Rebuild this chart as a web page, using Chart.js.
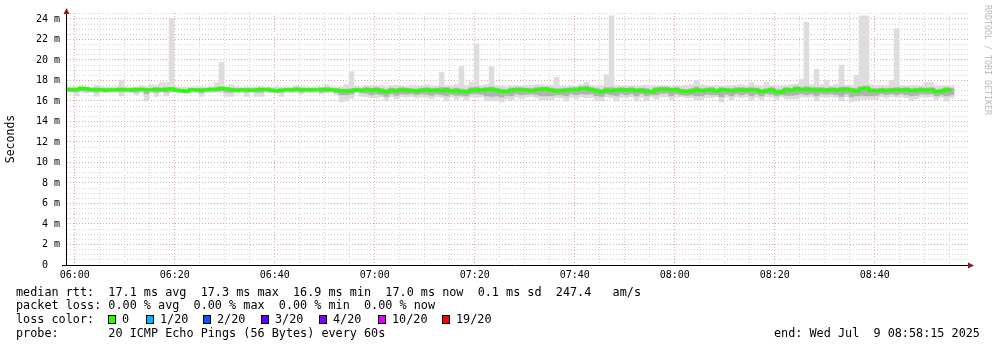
<!DOCTYPE html>
<html>
<head>
<meta charset="utf-8">
<script src="https://cdn.jsdelivr.net/npm/chart.js@4.4.0/dist/chart.umd.min.js"></script>
<style>
  html, body { margin: 0; padding: 0; background: #fff; }
  #wrap { position: relative; width: 997px; height: 347px; overflow: hidden; }
  canvas { position: absolute; left: 0; top: 0; }
  .leg { position: absolute; font-family: 'DejaVu Sans Mono', monospace; font-size: 11.8px;
         line-height: 14px; white-space: pre; color: #000; }
  .sq { position: absolute; width: 6px; height: 7px; border: 1px solid #000; }
  #credit { position: absolute; left: 992px; top: 5px; transform: rotate(90deg); transform-origin: 0 0;
            font-family: 'DejaVu Sans Mono', monospace; font-size: 8.3px; line-height: 9px;
            color: #b8b8b8; white-space: pre; }
</style>
</head>
<body>
<div id="wrap">
  <canvas id="rrd" width="997" height="347"></canvas>
  <div id="credit">RRDTOOL / TOBI OETIKER</div>
  <div class="leg" style="left:16px;top:284.5px">median rtt:  17.1 ms avg  17.3 ms max  16.9 ms min  17.0 ms now  0.1 ms sd  247.4   am/s</div>
  <div class="leg" style="left:16px;top:298px">packet loss: 0.00 % avg  0.00 % max  0.00 % min  0.00 % now</div>
  <div class="leg" style="left:16px;top:312px">loss color:</div>
  <div id="loss"></div>
  <div class="leg" style="left:16px;top:325.5px">probe:       20 ICMP Echo Pings (56 Bytes) every 60s</div>
  <div class="leg" style="left:774px;top:325.5px">end: Wed Jul  9 08:58:15 2025</div>
</div>
<script>
// one sample per minute, first one at 05:58:22 (minutes relative to 06:00)
const firstSample = -1.64;
const tickLabels = ['06:00', '06:20', '06:40', '07:00', '07:20', '07:40', '08:00', '08:20', '08:40'];

// median rtt in ms
const medianRtt = [
  17.15, 17.1, 17.15, 17.25, 17.2, 17.1, 17.15, 17.1, 17.05, 17.1,
  17.1, 17.15, 17.1, 17.1, 17.15, 17.15, 17.1, 17.1, 17.15, 17.1,
  17.15, 17.2, 17.05, 17.0, 16.95, 17.1, 17.1, 17.05, 17.1, 17.15,
  17.15, 17.25, 17.2, 17.1, 17.05, 17.1, 17.1, 17.05, 17.1, 17.15,
  17.15, 17.05, 17.0, 17.05, 17.1, 17.1, 17.15, 17.1, 17.1, 17.1,
  17.1, 17.15, 17.15, 17.1, 17.05, 17.0, 16.95, 17.0, 17.1, 17.05,
  17.1, 17.05, 17.1, 16.95, 16.9, 17.05, 17.0, 17.1, 17.05, 17.0,
  16.95, 17.05, 17.1, 17.0, 17.05, 17.0, 17.1, 16.95, 17.0, 16.9,
  16.9, 17.05, 17.1, 17.05, 17.1, 17.15, 17.05, 16.95, 16.9, 17.05,
  17.1, 17.1, 17.05, 17.0, 17.1, 17.15, 17.15, 17.05, 16.95, 17.0,
  17.05, 17.1, 17.1, 17.2, 17.2, 17.1, 17.0, 16.9, 17.05, 17.0,
  17.05, 17.1, 17.05, 17.1, 17.0, 17.05, 16.95, 16.9, 17.1, 17.15,
  17.15, 17.05, 17.1, 16.95, 16.9, 16.95, 17.1, 17.0, 17.05, 17.1,
  16.95, 17.1, 17.05, 17.0, 17.05, 17.1, 17.05, 17.1, 17.05, 16.9,
  17.0, 17.1, 16.85, 16.9, 17.1, 17.05, 17.2, 17.1, 17.15, 17.1,
  17.05, 17.1, 17.05, 17.1, 17.05, 17.1, 17.15, 17.05, 16.95, 17.2,
  17.25, 17.0, 17.0, 17.05, 17.0, 17.05, 17.1, 17.05, 17.1, 17.0,
  17.05, 17.1, 17.05, 17.1, 16.9, 16.95, 17.1, 17.05
];

// slowest ping of each round (ms)
const pingMax = [
  17.35, 17.4, 17.35, 17.45, 17.35, 17.3, 17.55, 17.4, 17.35, 17.35,
  17.4, 18.0, 17.4, 17.35, 17.35, 17.45, 17.4, 17.6, 17.55, 17.8,
  17.8, 24.05, 17.4, 17.35, 17.35, 17.4, 17.4, 17.4, 17.35, 17.4,
  17.8, 19.75, 17.35, 17.6, 17.4, 17.35, 17.4, 17.35, 17.4, 17.4,
  17.35, 17.35, 17.4, 17.35, 17.4, 17.35, 17.5, 17.4, 17.4, 17.35,
  17.4, 17.35, 17.6, 17.4, 17.35, 17.4, 17.6, 18.85, 17.4, 17.4,
  17.5, 17.5, 17.45, 17.5, 17.4, 17.5, 17.55, 17.45, 17.4, 17.5,
  17.45, 17.5, 17.6, 17.5, 17.45, 18.8, 17.5, 17.45, 17.6, 19.35,
  17.5, 17.8, 21.55, 17.5, 17.6, 19.35, 17.5, 17.45, 17.4, 17.5,
  17.5, 17.45, 17.5, 17.55, 17.6, 17.55, 17.5, 17.55, 18.3, 17.45,
  17.4, 17.5, 17.45, 17.6, 17.8, 17.5, 17.45, 17.5, 18.55, 24.3,
  17.5, 17.45, 17.5, 17.5, 17.45, 17.5, 17.55, 17.45, 17.5, 17.5,
  17.5, 17.45, 17.5, 17.45, 17.55, 17.6, 18.0, 17.6, 17.5, 17.45,
  17.5, 17.45, 17.5, 17.5, 17.55, 17.6, 17.5, 17.8, 17.5, 17.45,
  17.8, 17.5, 17.45, 17.5, 17.55, 17.6, 17.65, 18.1, 23.7, 17.6,
  19.1, 17.6, 18.0, 17.5, 17.65, 19.5, 17.55, 17.5, 18.5, 24.3,
  24.3, 17.6, 17.5, 17.55, 17.5, 18.0, 23.05, 17.5, 17.45, 17.5,
  17.5, 17.45, 17.8, 17.8, 17.5, 17.45, 17.5, 17.45
];

// fastest ping of each round (ms)
const pingMin = [
  16.9, 16.85, 16.5, 16.85, 16.8, 16.85, 16.45, 16.85, 16.8, 16.85,
  16.85, 16.5, 16.85, 16.8, 16.6, 16.85, 16.0, 16.8, 16.45, 16.85,
  16.5, 16.8, 16.85, 16.8, 16.75, 16.85, 16.8, 16.45, 16.85, 16.8,
  16.85, 16.8, 16.45, 16.45, 16.85, 16.8, 16.45, 16.85, 16.45, 16.45,
  16.85, 16.8, 16.75, 16.45, 16.85, 16.8, 16.85, 16.7, 16.85, 16.8,
  16.85, 16.7, 16.8, 16.85, 16.6, 15.9, 16.0, 16.25, 16.8, 16.45,
  16.4, 16.3, 16.3, 16.4, 16.0, 16.4, 16.2, 16.4, 16.35, 16.4,
  16.3, 16.4, 16.35, 16.2, 16.4, 16.35, 16.0, 16.4, 16.15, 16.35,
  16.1, 16.4, 16.35, 16.4, 16.0, 16.0, 16.0, 15.9, 16.2, 16.1,
  16.4, 16.2, 16.35, 16.4, 16.3, 16.1, 16.1, 16.1, 16.35, 16.3,
  16.0, 16.35, 16.2, 16.4, 16.3, 16.35, 16.0, 16.0, 16.4, 16.3,
  16.0, 16.35, 16.3, 16.4, 16.0, 16.35, 16.0, 16.4, 16.2, 16.4,
  16.4, 16.1, 16.35, 16.4, 16.3, 16.35, 16.1, 16.1, 16.35, 16.3,
  16.4, 15.9, 16.35, 16.1, 16.4, 16.3, 16.4, 16.1, 16.35, 16.15,
  16.4, 16.35, 16.15, 16.4, 16.2, 16.2, 16.2, 16.4, 16.35, 16.4,
  16.0, 16.4, 16.35, 16.4, 16.35, 16.0, 16.4, 15.9, 16.0, 16.15,
  16.15, 16.15, 16.15, 16.4, 16.3, 16.4, 16.35, 16.4, 16.3, 16.0,
  16.2, 16.4, 16.35, 16.4, 16.15, 16.35, 16.0, 16.3
];

// the denser middle of the smoke (ms)
const innerHi = [
  17.25, 17.2, 17.25, 17.3, 17.3, 17.2, 17.25, 17.2, 17.2, 17.2,
  17.2, 17.25, 17.2, 17.2, 17.25, 17.25, 17.2, 17.25, 17.3, 17.25,
  17.3, 17.3, 17.2, 17.15, 17.1, 17.2, 17.2, 17.2, 17.2, 17.25,
  17.3, 17.35, 17.3, 17.25, 17.2, 17.2, 17.2, 17.2, 17.2, 17.25,
  17.25, 17.2, 17.15, 17.2, 17.2, 17.2, 17.3, 17.25, 17.2, 17.2,
  17.2, 17.25, 17.3, 17.2, 17.2, 17.15, 17.15, 17.2, 17.25, 17.2,
  17.3, 17.25, 17.3, 17.2, 17.1, 17.25, 17.2, 17.3, 17.25, 17.2,
  17.15, 17.25, 17.3, 17.2, 17.25, 17.3, 17.3, 17.15, 17.25, 17.15,
  17.1, 17.3, 17.35, 17.25, 17.3, 17.35, 17.25, 17.15, 17.1, 17.25,
  17.3, 17.3, 17.25, 17.2, 17.3, 17.35, 17.35, 17.25, 17.2, 17.2,
  17.25, 17.3, 17.3, 17.4, 17.45, 17.3, 17.2, 17.1, 17.3, 17.3,
  17.25, 17.3, 17.25, 17.3, 17.2, 17.25, 17.2, 17.1, 17.3, 17.35,
  17.35, 17.25, 17.3, 17.15, 17.1, 17.2, 17.35, 17.2, 17.25, 17.3,
  17.15, 17.3, 17.25, 17.2, 17.3, 17.3, 17.25, 17.3, 17.25, 17.1,
  17.2, 17.3, 17.1, 17.1, 17.3, 17.25, 17.4, 17.3, 17.4, 17.3,
  17.3, 17.3, 17.25, 17.3, 17.25, 17.35, 17.35, 17.25, 17.2, 17.4,
  17.45, 17.2, 17.2, 17.25, 17.2, 17.25, 17.3, 17.25, 17.3, 17.2,
  17.25, 17.3, 17.25, 17.3, 17.1, 17.15, 17.3, 17.25
];
const innerLo = [
  16.95, 16.95, 16.9, 17.0, 16.95, 16.95, 16.85, 16.95, 16.9, 16.95,
  16.95, 16.9, 16.95, 16.9, 16.85, 16.95, 16.7, 16.95, 16.85, 16.9,
  16.85, 16.95, 16.9, 16.85, 16.8, 16.95, 16.9, 16.8, 16.95, 16.95,
  16.95, 17.0, 16.85, 16.85, 16.9, 16.95, 16.85, 16.9, 16.85, 16.85,
  16.95, 16.9, 16.85, 16.85, 16.95, 16.9, 16.95, 16.85, 16.95, 16.9,
  16.95, 16.85, 16.9, 16.95, 16.8, 16.6, 16.6, 16.7, 16.9, 16.8,
  16.75, 16.6, 16.7, 16.6, 16.45, 16.7, 16.55, 16.7, 16.65, 16.7,
  16.6, 16.7, 16.65, 16.55, 16.7, 16.6, 16.5, 16.65, 16.55, 16.55,
  16.5, 16.7, 16.7, 16.65, 16.5, 16.45, 16.5, 16.4, 16.55, 16.5,
  16.7, 16.6, 16.65, 16.7, 16.6, 16.5, 16.5, 16.5, 16.6, 16.6,
  16.5, 16.7, 16.6, 16.7, 16.65, 16.7, 16.5, 16.45, 16.7, 16.6,
  16.5, 16.7, 16.6, 16.7, 16.5, 16.7, 16.5, 16.6, 16.6, 16.75,
  16.75, 16.5, 16.7, 16.6, 16.55, 16.6, 16.5, 16.5, 16.65, 16.6,
  16.6, 16.4, 16.65, 16.5, 16.7, 16.6, 16.7, 16.5, 16.65, 16.5,
  16.7, 16.65, 16.5, 16.6, 16.55, 16.55, 16.6, 16.7, 16.6, 16.7,
  16.5, 16.7, 16.65, 16.7, 16.6, 16.45, 16.7, 16.4, 16.5, 16.55,
  16.5, 16.5, 16.55, 16.7, 16.6, 16.7, 16.6, 16.7, 16.6, 16.5,
  16.55, 16.7, 16.65, 16.7, 16.5, 16.6, 16.5, 16.6
];

const lossLabels = ['0', '1/20', '2/20', '3/20', '4/20', '10/20', '19/20'];
const lossColors = ['#26ff00', '#00b8ff', '#0059ff', '#5e00ff', '#7e00ff', '#dd00ff', '#ff0000'];

// loss colour legend, placed like rrdtool does
const lossX = [108, 146, 203, 261, 319, 378, 442];
const lossBox = document.getElementById('loss');
lossLabels.forEach((lbl, i) => {
  const sq = document.createElement('div');
  sq.className = 'sq';
  sq.style.left = lossX[i] + 'px';
  sq.style.top = '315px';
  sq.style.background = lossColors[i];
  lossBox.appendChild(sq);
  const t = document.createElement('div');
  t.className = 'leg';
  t.style.left = (lossX[i] + 14) + 'px';
  t.style.top = '312px';
  t.textContent = lbl;
  lossBox.appendChild(t);
});

const mono = 'DejaVu Sans Mono';
const minorGrid = '#d6d6d6';
const majorGrid = '#eba3a3';
const times = medianRtt.map((_, k) => firstSample + k);
const band = (lo, hi) => times.map((t, k) => ({ x: t, y: [lo[k], hi[k]] }));

// axis lines with the little rrdtool arrows
const axisArrows = {
  id: 'axisArrows',
  afterDraw(chart) {
    const { ctx, chartArea: a } = chart;
    ctx.save();
    ctx.strokeStyle = '#000';
    ctx.lineWidth = 1;
    ctx.beginPath();
    ctx.moveTo(62, a.bottom + 0.5);
    ctx.lineTo(a.right + 1, a.bottom + 0.5);
    ctx.moveTo(a.left - 0.5, a.bottom + 1);
    ctx.lineTo(a.left - 0.5, a.top - 2);
    ctx.stroke();
    ctx.fillStyle = '#8b1c1c';
    ctx.beginPath();
    ctx.moveTo(a.left - 3.5, a.top + 1);
    ctx.lineTo(a.left + 2.5, a.top + 1);
    ctx.lineTo(a.left - 0.5, a.top - 5);
    ctx.closePath();
    ctx.fill();
    ctx.beginPath();
    ctx.moveTo(a.right, a.bottom - 2.5);
    ctx.lineTo(a.right, a.bottom + 3.5);
    ctx.lineTo(a.right + 6, a.bottom + 0.5);
    ctx.closePath();
    ctx.fill();
    ctx.restore();
  }
};

new Chart(document.getElementById('rrd'), {
  type: 'bar',
  data: {
    datasets: [
      {
        type: 'line',
        data: times.map((t, k) => ({ x: t, y: medianRtt[k] })),
        borderColor: '#26ff00',
        borderWidth: 3,
        stepped: 'middle',
        pointRadius: 0,
        clip: 0,
        order: 0
      },
      {
        data: band(innerLo, innerHi),
        backgroundColor: '#b2b2b2',
        grouped: false,
        barThickness: 5,
        clip: 0,
        order: 1
      },
      {
        data: band(pingMin, pingMax),
        backgroundColor: '#dddddd',
        grouped: false,
        barThickness: 5,
        clip: 0,
        order: 2
      }
    ]
  },
  options: {
    responsive: false,
    animation: false,
    devicePixelRatio: 1,
    layout: { padding: { top: 12, right: 29, left: 0, bottom: 0 } },
    plugins: { legend: { display: false }, tooltip: { enabled: false } },
    scales: {
      x: {
        type: 'linear',
        min: -1.54,
        max: 178.66,
        offset: false,
        afterBuildTicks: s => {
          s.ticks = [];
          for (let v = 0; v <= 175; v += 5) s.ticks.push({ value: v });
        },
        afterFit: s => { s.height = 82; },
        grid: {
          color: c => (c.tick && c.tick.value % 20 === 0) ? majorGrid : minorGrid,
          drawTicks: false,
          offset: false
        },
        border: { display: false, dash: [1, 2] },
        ticks: {
          autoSkip: false,
          maxRotation: 0,
          padding: 4,
          color: '#000',
          font: { family: mono, size: 10 },
          callback: v => (v % 20 === 0) ? tickLabels[v / 20] : ''
        }
      },
      y: {
        min: 0,
        max: 24.58,
        afterBuildTicks: s => {
          s.ticks = [];
          for (let i = 0; i <= 49; i++) s.ticks.push({ value: i / 2 });
        },
        afterFit: s => { s.width = 67; },
        grid: {
          color: c => (c.tick && c.tick.value % 2 === 0) ? majorGrid : minorGrid,
          drawTicks: false
        },
        border: { display: false, dash: [1, 2] },
        ticks: {
          autoSkip: false,
          padding: 7,
          color: '#000',
          font: { family: mono, size: 10 },
          callback: v => (v % 2 === 0) ? (v === 0 ? '0  ' : v + ' m') : ''
        },
        title: {
          display: true,
          text: 'Seconds',
          color: '#000',
          font: { family: mono, size: 11.5 },
          padding: { top: 4, bottom: 0 }
        }
      }
    }
  },
  plugins: [axisArrows]
});
</script>
</body>
</html>
